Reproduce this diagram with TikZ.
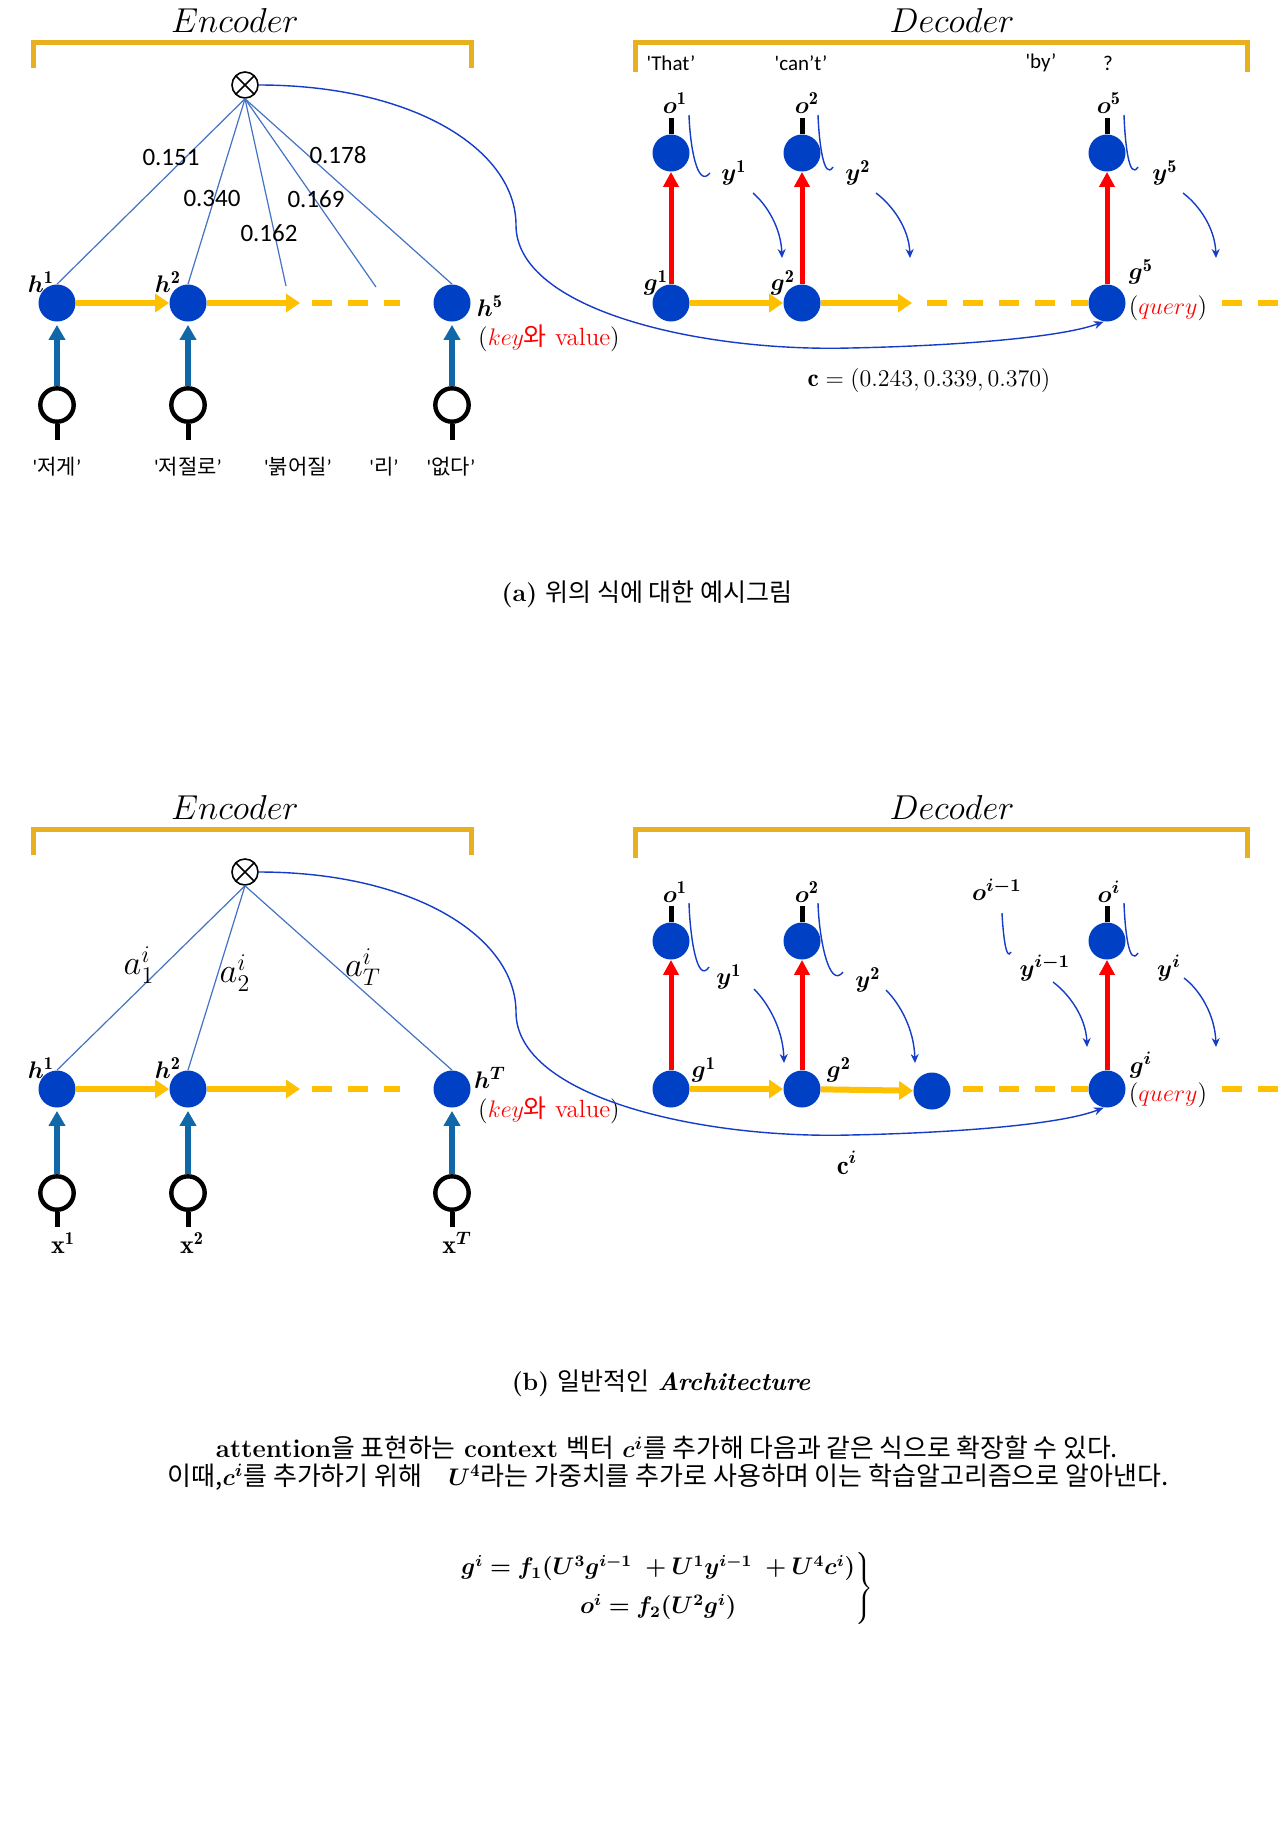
\documentclass[tikz,border=0pt]{standalone}
\usepackage{fontspec}
\usepackage{bm}
\usetikzlibrary{arrows.meta}
\newfontfamily\kr{Noto Sans CJK KR}
\newfontfamily\carl{Carlito}
\definecolor{nblue}{RGB}{0,64,196}
\definecolor{gold}{RGB}{232,176,30}
\definecolor{orng}{RGB}{255,192,0}
\definecolor{ablue}{RGB}{68,114,196}
\definecolor{iblue}{RGB}{16,104,168}
\definecolor{cblue}{RGB}{20,60,200}
\newcommand{\krq}[1]{{\carl\textquotesingle}{\kr #1}{\carl ’}}
\begin{document}
\begin{tikzpicture}[x=0.5pt,y=0.5pt,
 hn/.style={circle,fill=nblue,minimum size=18.5pt,inner sep=0pt},
 inp/.style={circle,draw=black,line width=2.2pt,fill=white,minimum size=16.7pt,inner sep=0pt},
 otim/.style={circle,draw=black,line width=0.8pt,minimum size=13pt,inner sep=0pt,
   path picture={\draw[line width=0.8pt] (path picture bounding box.north west) -- (path picture bounding box.south east) (path picture bounding box.north east) -- (path picture bounding box.south west);}},
 brk/.style={gold,line width=2.5pt},
 fwd/.style={orng,line width=3pt,-{Triangle[length=7pt,width=9pt]}},
 dsh/.style={orng,line width=3pt,dash pattern=on 10pt off 8pt},
 upb/.style={iblue,line width=3pt,-{Triangle[length=7.5pt,width=8pt]},shorten >=1.5pt},
 upr/.style={red,line width=2.5pt,-{Triangle[length=7.5pt,width=7.5pt]}},
 blk/.style={black,line width=2.5pt},
 att/.style={ablue,line width=0.6pt},
 oarc/.style={cblue,line width=0.7pt},
 yarr/.style={cblue,line width=0.7pt,-{Stealth[length=4.5pt,width=4pt]}},
 ctx/.style={cblue,line width=0.7pt,-{Stealth[length=5pt,width=4pt]}},
 ttl/.style={font=\fontsize{17}{20}\selectfont,inner sep=0pt},
 num/.style={font=\carl\fontsize{12.5}{14}\selectfont,inner sep=0pt},
 qt/.style={font=\carl\fontsize{10.5}{12}\selectfont,inner sep=0pt},
 krw/.style={font=\fontsize{10.5}{12}\selectfont,inner sep=0pt},
 lab/.style={font=\fontsize{13}{15}\selectfont,inner sep=0pt},
 alab/.style={font=\fontsize{17}{19}\selectfont,inner sep=0pt},
 txt/.style={font=\fontsize{12}{14}\selectfont,inner sep=0pt},
]
\fill[white] (0,0) rectangle (1280,-1833);
\useasboundingbox (0,0) rectangle (1280,-1833);

%================ TOP (a) ================
\draw[brk] (33,-68) -- (33,-42) -- (471,-42) -- (471,-68);
\node[ttl] (encA) at (235,-20) {$Encoder$};
\draw[brk] (635,-72) -- (635,-42) -- (1247,-42) -- (1247,-72);
\node[ttl] (decA) at (952,-20) {$Decoder$};

% encoder
\node[otim] (otA) at (245,-85) {};
\node[hn] (hA1) at (57,-303) {};
\node[hn] (hA2) at (188,-303) {};
\node[hn] (hA5) at (452,-303) {};
\coordinate (eA1) at (300,-303);
\coordinate (dA1) at (312,-303);
\coordinate (dA2) at (400,-303);
\draw[fwd] (hA1) -- (hA2);
\draw[fwd] (hA2) -- (eA1);
\draw[dsh] (dA1) -- (dA2);
\coordinate (aA3) at (286,-286);
\coordinate (aA4) at (376,-287);
\draw[att] (otA.south) -- (hA1.north);
\draw[att] (otA.south) -- (hA2.north);
\draw[att] (otA.south) -- (aA3);
\draw[att] (otA.south) -- (aA4);
\draw[att] (otA.south) -- (hA5.north);
\node[num] (wA1) at (171,-157) {0.151};
\node[num] (wA2) at (212,-198) {0.340};
\node[num] (wA3) at (269,-233) {0.162};
\node[num] (wA4) at (316,-199) {0.169};
\node[num] (wA5) at (338,-155) {0.178};
\node[lab] (lhA1) at (41,-282) {$\bm{h}^{\mathbf{1}}$};
\node[lab] (lhA2) at (168,-282) {$\bm{h}^{\mathbf{2}}$};
\node[lab] (lhA5) at (490,-306) {$\bm{h}^{\mathbf{5}}$};
\node[txt,font=\fontsize{12.5}{14}\selectfont] (kvA) at (549,-338) {(\textcolor{red}{$key${\kr 와} value})};
% inputs
\node[inp] (xA1) at (57,-405) {};
\node[inp] (xA2) at (188,-405) {};
\node[inp] (xA5) at (452,-405) {};
\coordinate (sA1) at (57,-440);
\coordinate (sA2) at (188,-440);
\coordinate (sA5) at (452,-440);
\draw[upb] (xA1) -- (hA1);
\draw[upb] (xA2) -- (hA2);
\draw[upb] (xA5) -- (hA5);
\draw[blk] (xA1) -- (sA1);
\draw[blk] (xA2) -- (sA2);
\draw[blk] (xA5) -- (sA5);
\node[krw] (kwA1) at (57,-467) {\krq{저게}};
\node[krw] (kwA2) at (188,-467) {\krq{저절로}};
\node[krw] (kwA3) at (298,-467) {\krq{붉어질}};
\node[krw] (kwA4) at (384,-467) {\krq{리}};
\node[krw] (kwA5) at (451,-467) {\krq{없다}};

% decoder
\node[hn] (oA1) at (671,-153) {};
\node[hn] (oA2) at (802,-153) {};
\node[hn] (oA5) at (1107,-153) {};
\node[hn] (gA1) at (671,-303) {};
\node[hn] (gA2) at (802,-303) {};
\node[hn] (gA5) at (1107,-303) {};
\draw[upr] (gA1) -- (oA1);
\draw[upr] (gA2) -- (oA2);
\draw[upr] (gA5) -- (oA5);
\coordinate (tA1) at (671,-118);
\coordinate (tA2) at (802,-118);
\coordinate (tA5) at (1107,-118);
\draw[blk] (oA1) -- (tA1);
\draw[blk] (oA2) -- (tA2);
\draw[blk] (oA5) -- (tA5);
\coordinate (eA2) at (912,-303);
\coordinate (dA3) at (927,-303);
\coordinate (dA4) at (1222,-303);
\coordinate (dA5) at (1280,-303);
\draw[fwd] (gA1) -- (gA2);
\draw[fwd] (gA2) -- (eA2);
\draw[dsh] (dA3) -- (gA5);
\draw[dsh] (dA4) -- (dA5);
\node[qt] (qA1) at (671,-63) {\textquotesingle That’};
\node[qt] (qA2) at (801,-63) {\textquotesingle can’t’};
\node[qt] (qA3) at (1041,-63) {\textquotesingle by’};
\node[qt] (qA4) at (1108,-63) {?};
\node[lab] (loA1) at (675,-103) {$\bm{o}^{\mathbf{1}}$};
\node[lab] (loA2) at (807,-103) {$\bm{o}^{\mathbf{2}}$};
\node[lab] (loA5) at (1109,-103) {$\bm{o}^{\mathbf{5}}$};
\node[lab] (lgA1) at (656,-283) {$\bm{g}^{\mathbf{1}}$};
\node[lab] (lgA2) at (783,-283) {$\bm{g}^{\mathbf{2}}$};
\node[lab] (lgA5) at (1141,-272) {$\bm{g}^{\mathbf{5}}$};
\node[txt,font=\fontsize{12.5}{14}\selectfont] (quA) at (1168,-308) {(\textcolor{red}{$query$})};
\node[lab] (lyA1) at (734,-173) {$\bm{y}^{\mathbf{1}}$};
\node[lab] (lyA2) at (858,-173) {$\bm{y}^{\mathbf{2}}$};
\node[lab] (lyA5) at (1165,-173) {$\bm{y}^{\mathbf{5}}$};
% o-arcs
\coordinate (oaA1s) at (689,-115); \coordinate (oaA1e) at (710,-173);
\coordinate (oaA2s) at (818,-115); \coordinate (oaA2e) at (833,-167);
\coordinate (oaA5s) at (1124,-115); \coordinate (oaA5e) at (1138,-167);
\draw[oarc] (oaA1s) .. controls +(1,-30) and +(-13,-16) .. (oaA1e);
\draw[oarc] (oaA2s) .. controls +(1,-28) and +(-9,-14) .. (oaA2e);
\draw[oarc] (oaA5s) .. controls +(1,-28) and +(-9,-14) .. (oaA5e);
% y-arrows
\coordinate (yaA1s) at (753,-193); \coordinate (yaA1e) at (782,-258);
\coordinate (yaA2s) at (876,-193); \coordinate (yaA2e) at (910,-258);
\coordinate (yaA5s) at (1183,-193); \coordinate (yaA5e) at (1216,-258);
\draw[yarr] (yaA1s) .. controls +(14,-12) and +(-1,30) .. (yaA1e);
\draw[yarr] (yaA2s) .. controls +(16,-12) and +(-1,30) .. (yaA2e);
\draw[yarr] (yaA5s) .. controls +(16,-12) and +(-1,30) .. (yaA5e);
% context curve
\draw[ctx] (otA.east) .. controls +(155,0) and (516,-150) .. (516,-225)
  .. controls (516,-310) and (700,-352) .. (850,-348)
  .. controls (950,-346) and (1060,-338) .. (gA5.-100);
\node[txt,font=\fontsize{12.6}{15}\selectfont] (cA) at (929,-380) {$\mathbf{c} = (0.243, 0.339, 0.370)$};

\node[txt,font=\fontsize{12.5}{14}\selectfont] (capA) at (647,-594) {\textbf{(a)} {\kr 위의 식에 대한 예시그림}};

%================ BOTTOM (b) ================
\begin{scope}[yshift=-393.5pt]
\draw[brk] (33,-68) -- (33,-42) -- (471,-42) -- (471,-68);
\node[ttl] (encB) at (235,-20) {$Encoder$};
\draw[brk] (635,-71) -- (635,-42) -- (1247,-42) -- (1247,-71);
\node[ttl] (decB) at (952,-20) {$Decoder$};

\node[otim] (otB) at (245,-85) {};
\node[hn] (hB1) at (57,-302) {};
\node[hn] (hB2) at (188,-302) {};
\node[hn] (hBT) at (452,-302) {};
\coordinate (eB1) at (300,-302);
\coordinate (dB1) at (312,-302);
\coordinate (dB2) at (400,-302);
\draw[fwd] (hB1) -- (hB2);
\draw[fwd] (hB2) -- (eB1);
\draw[dsh] (dB1) -- (dB2);
\draw[att] (otB.south) -- (hB1.north);
\draw[att] (otB.south) -- (hB2.north);
\draw[att] (otB.south) -- (hBT.north);
\node[alab] (aB1) at (139,-178) {$a_1^i$};
\node[alab] (aB2) at (235,-186) {$a_2^i$};
\node[alab] (aBT) at (363,-180) {$a_T^i$};
\node[lab] (lhB1) at (41,-281) {$\bm{h}^{\mathbf{1}}$};
\node[lab] (lhB2) at (168,-281) {$\bm{h}^{\mathbf{2}}$};
\node[lab] (lhBT) at (490,-291) {$\bm{h}^{\bm{T}}$};
\node[txt,font=\fontsize{12.5}{14}\selectfont] (kvB) at (549,-323) {(\textcolor{red}{$key${\kr 와} value})};
\node[inp] (xB1) at (57,-406) {};
\node[inp] (xB2) at (188,-406) {};
\node[inp] (xBT) at (452,-406) {};
\coordinate (sB1) at (57,-440);
\coordinate (sB2) at (188,-440);
\coordinate (sBT) at (452,-440);
\draw[upb] (xB1) -- (hB1);
\draw[upb] (xB2) -- (hB2);
\draw[upb] (xBT) -- (hBT);
\draw[blk] (xB1) -- (sB1);
\draw[blk] (xB2) -- (sB2);
\draw[blk] (xBT) -- (sBT);
\node[lab] (lxB1) at (63,-456) {$\mathbf{x}^{\mathbf{1}}$};
\node[lab] (lxB2) at (192,-456) {$\mathbf{x}^{\mathbf{2}}$};
\node[lab] (lxBT) at (457,-456) {$\mathbf{x}^{\bm{T}}$};

\node[hn] (oB1) at (671,-154) {};
\node[hn] (oB2) at (802,-154) {};
\node[hn] (oBi) at (1107,-154) {};
\node[hn] (gB1) at (671,-302) {};
\node[hn] (gB2) at (802,-302) {};
\node[hn] (gB3) at (932,-304) {};
\node[hn] (gBi) at (1107,-302) {};
\draw[upr] (gB1) -- (oB1);
\draw[upr] (gB2) -- (oB2);
\draw[upr] (gBi) -- (oBi);
\coordinate (tB1) at (671,-119);
\coordinate (tB2) at (802,-119);
\coordinate (tBi) at (1107,-119);
\draw[blk] (oB1) -- (tB1);
\draw[blk] (oB2) -- (tB2);
\draw[blk] (oBi) -- (tBi);
\coordinate (dB3) at (963,-302);
\coordinate (dB4) at (1222,-302);
\coordinate (dB5) at (1280,-302);
\draw[fwd] (gB1) -- (gB2);
\draw[fwd] (gB2) -- (gB3);
\draw[dsh] (dB3) -- (gBi);
\draw[dsh] (dB4) -- (dB5);
\node[lab] (loB1) at (675,-105) {$\bm{o}^{\mathbf{1}}$};
\node[lab] (loB2) at (807,-105) {$\bm{o}^{\mathbf{2}}$};
\node[lab] (loB3) at (997,-103) {$\bm{o}^{\bm{i-1}}$};
\node[lab] (loBi) at (1109,-105) {$\bm{o}^{\bm{i}}$};
\node[lab] (lgB1) at (704,-283) {$\bm{g}^{\mathbf{1}}$};
\node[lab] (lgB2) at (839,-283) {$\bm{g}^{\mathbf{2}}$};
\node[lab] (lgBi) at (1141,-278) {$\bm{g}^{\bm{i}}$};
\node[txt,font=\fontsize{12.5}{14}\selectfont] (quB) at (1168,-308) {(\textcolor{red}{$query$})};
\node[lab] (lyB1) at (729,-190) {$\bm{y}^{\mathbf{1}}$};
\node[lab] (lyB2) at (868,-193) {$\bm{y}^{\mathbf{2}}$};
\node[lab] (lyB3) at (1045,-181) {$\bm{y}^{\bm{i-1}}$};
\node[lab] (lyBi) at (1169,-181) {$\bm{y}^{\bm{i}}$};
\coordinate (oaB1s) at (689,-116); \coordinate (oaB1e) at (709,-180);
\coordinate (oaB2s) at (818,-116); \coordinate (oaB2e) at (843,-185);
\coordinate (oaB3s) at (1002,-126); \coordinate (oaB3e) at (1011,-165);
\coordinate (oaBis) at (1124,-116); \coordinate (oaBie) at (1138,-166);
\draw[oarc] (oaB1s) .. controls +(1,-33) and +(-12,-18) .. (oaB1e);
\draw[oarc] (oaB2s) .. controls +(1,-35) and +(-14,-18) .. (oaB2e);
\draw[oarc] (oaB3s) .. controls +(1,-20) and +(-5,-10) .. (oaB3e);
\draw[oarc] (oaBis) .. controls +(1,-28) and +(-9,-14) .. (oaBie);
\coordinate (yaB1s) at (754,-202); \coordinate (yaB1e) at (784,-276);
\coordinate (yaB2s) at (886,-203); \coordinate (yaB2e) at (915,-276);
\coordinate (yaB3s) at (1053,-195); \coordinate (yaB3e) at (1087,-260);
\coordinate (yaBis) at (1184,-191); \coordinate (yaBie) at (1216,-260);
\draw[yarr] (yaB1s) .. controls +(14,-14) and +(-1,34) .. (yaB1e);
\draw[yarr] (yaB2s) .. controls +(14,-14) and +(-1,34) .. (yaB2e);
\draw[yarr] (yaB3s) .. controls +(16,-12) and +(-1,30) .. (yaB3e);
\draw[yarr] (yaBis) .. controls +(16,-12) and +(-1,32) .. (yaBie);
\draw[ctx] (otB.east) .. controls +(155,0) and (516,-150) .. (516,-225)
  .. controls (516,-310) and (700,-352) .. (850,-348)
  .. controls (950,-346) and (1060,-338) .. (gBi.-100);
\node[txt,font=\fontsize{13.5}{15}\selectfont] (cB) at (847,-376) {$\mathbf{c}^{\bm{i}}$};
\end{scope}

\node[txt,font=\fontsize{12.5}{14}\selectfont] (capB) at (661,-1383) {\textbf{(b)} {\kr 일반적인} \textbf{\textit{Architecture}}};
\node[txt,font=\fontsize{12.9}{14}\selectfont] (p1) at (667,-1448) {\textbf{attention}{\kr 을 표현하는} \textbf{context} {\kr 벡터} $\bm{c}^{\bm{i}}${\kr 를 추가해 다음과 같은 식으로 확장할 수 있다.}};
\node[txt,font=\fontsize{13}{14}\selectfont] (p2) at (668,-1477) {{\kr 이때,}$\bm{c}^{\bm{i}}${\kr 를 추가하기 위해}\quad$\bm{U}^{\mathbf{4}}${\kr 라는 가중치를 추가로 사용하며 이는 학습알고리즘으로 알아낸다.}};
\node[txt,font=\fontsize{11.8}{15.5}\selectfont] (eq) at (666,-1588) {$\left.\begin{array}{@{}c@{}}
 \bm{g^{i} = f_1(U^3 g^{i-1}\ + U^1 y^{i-1}\ + U^4 c^{i})}\\[4pt]
 \bm{o^{i} = f_2(U^2 g^{i})}
 \end{array}\right\}$};
\end{tikzpicture}
\end{document}
